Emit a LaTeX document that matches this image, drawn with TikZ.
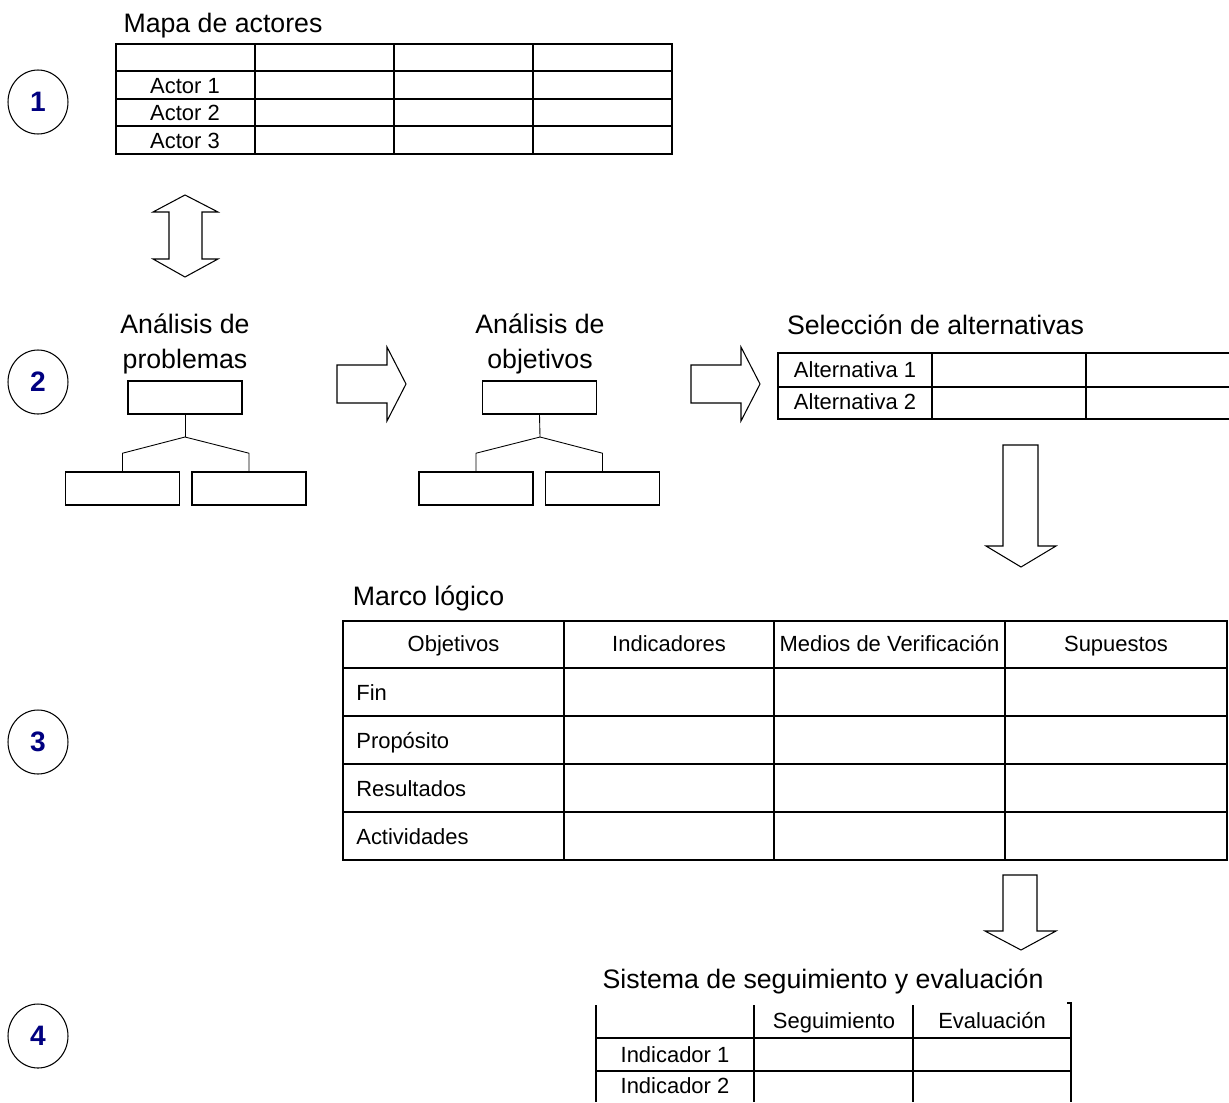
\documentclass[tikz,border=0pt]{standalone}
\usepackage{fontspec}
\setmainfont{Liberation Sans}
\usetikzlibrary{shapes.geometric}
\definecolor{navy}{RGB}{0,0,128}

\begin{document}
\begin{tikzpicture}[x=0.02cm,y=-0.02cm,
  every node/.style={inner sep=0pt},
  titel/.style={anchor=base,font=\fontsize{15.2}{18}\selectfont},
  cell/.style={anchor=base,font=\fontsize{12.5}{15}\selectfont},
  rowlabel/.style={cell,anchor=base west},
  stage/.style={draw,ellipse,line width=0.6pt,minimum width=1.2cm,minimum height=1.28cm,text=navy,font=\bfseries\fontsize{16}{19}\selectfont},
  box/.style={draw,line width=0.9pt,minimum width=2.28cm,minimum height=0.66cm},
  branch/.style={draw,line width=0.5pt},
  blockarrow/.style={draw,line width=0.6pt,line join=miter},
  grid/.style={draw,line width=1.1pt},
  thingrid/.style={draw,line width=0.6pt}]

\useasboundingbox (0,0) rectangle (1229,1102);

\node[stage] (S1) at (38,102) {1};
\node[stage] (S2) at (38,382) {2};
\node[stage] (S3) at (38,742) {3};
\node[stage] (S4) at (38,1036) {4};

\node[titel] (mapa) at (223,32) {Mapa de actores};
\draw[grid] (116,44) rectangle (672,154);
\foreach \x in {255,394,533} \draw[grid] (\x,44) -- (\x,154);
\foreach \y in {71,99,126} \draw[grid] (116,\y) -- (672,\y);
\foreach \i/\y in {1/93,2/120,3/148} \node[cell] (actor\i) at (185,\y) {Actor \i};

\draw[blockarrow] (185,195) -- (218,212) -- (202,212) -- (202,259) -- (218,259) -- (185,277)
  -- (153,259) -- (169,259) -- (169,212) -- (153,212) -- cycle;

\node[titel] (probA) at (185,333) {Análisis de};
\node[titel] (probB) at (185,368) {problemas};
\node[box] (probtop) at (185,397.5) {};
\node[box] (probleft) at (122.5,488.5) {};
\node[box] (probright) at (249,488.5) {};
\coordinate (probjoint) at (185,437);
\draw[branch] (probtop.south) -- (probjoint);
\draw[branch] (probleft.north) -- ++(0,-18) -- (probjoint) -- ([yshift=18*0.02cm]probright.north) -- (probright.north);

\draw[blockarrow] (337,365) -- (387,365) -- (387,347) -- (406,384) -- (387,421) -- (387,403) -- (337,403) -- cycle;

\node[titel] (objA) at (540,333) {Análisis de};
\node[titel] (objB) at (540,368) {objetivos};
\node[box] (objtop) at (539.5,397.5) {};
\node[box] (objleft) at (476,488.5) {};
\node[box] (objright) at (602.5,488.5) {};
\coordinate (objjoint) at (540,437);
\draw[branch] (objtop.south) -- (objjoint);
\draw[branch] (objleft.north) -- ++(0,-18) -- (objjoint) -- ([yshift=18*0.02cm]objright.north) -- (objright.north);

\draw[blockarrow] (691,365) -- (741,365) -- (741,347) -- (760,384) -- (741,421) -- (741,403) -- (691,403) -- cycle;

\node[titel] (selec) at (935.5,334) {Selección de alternativas};
\draw[thingrid] (1229,353) -- (778,353) -- (778,419) -- (1229,419);
\draw[thingrid] (778,387) -- (1229,387);
\foreach \x in {932,1086} \draw[thingrid] (\x,353) -- (\x,419);
\node[cell] (alt1) at (855,377) {Alternativa 1};
\node[cell] (alt2) at (855,409) {Alternativa 2};

\draw[blockarrow] (1003,445) -- (1038,445) -- (1038,546) -- (1056,546) -- (1021,567) -- (986,546) -- (1003,546) -- cycle;

\node[titel] (marco) at (428.5,605) {Marco lógico};
\draw[grid] (343,621) rectangle (1227,860);
\foreach \x in {564,774,1005} \draw[grid] (\x,621) -- (\x,860);
\foreach \y in {668,716,764,812} \draw[grid] (343,\y) -- (1227,\y);
\node[cell] (objetivos) at (453.5,651) {Objetivos};
\node[cell] (indicadores) at (669,651) {Indicadores};
\node[cell] (medios) at (889.5,651) {Medios de Verificación};
\node[cell] (supuestos) at (1116,651) {Supuestos};
\node[rowlabel] (fin) at (356,700) {Fin};
\node[rowlabel] (proposito) at (356,748) {Propósito};
\node[rowlabel] (resultados) at (356,796) {Resultados};
\node[rowlabel] (actividades) at (356,844) {Actividades};

\draw[blockarrow] (1003,875) -- (1037,875) -- (1037,931) -- (1056,931) -- (1021,950) -- (985,931) -- (1003,931) -- cycle;

\node[titel] (sistema) at (823,988) {Sistema de seguimiento y evaluación};
\foreach \x in {596,754,913} \draw[grid,line width=0.8pt] (\x,1005) -- (\x,1102);
\draw[grid,line width=0.8pt] (1067,1003) -- (1071,1003) -- (1071,1102);
\foreach \y in {1038,1071} \draw[grid,line width=0.8pt] (596,\y) -- (1071,\y);
\node[cell] (seguimiento) at (834,1028) {Seguimiento};
\node[cell] (evaluacion) at (992,1028) {Evaluación};
\node[cell] (ind1) at (675,1062) {Indicador 1};
\node[cell] (ind2) at (675,1093) {Indicador 2};

\end{tikzpicture}
\end{document}
